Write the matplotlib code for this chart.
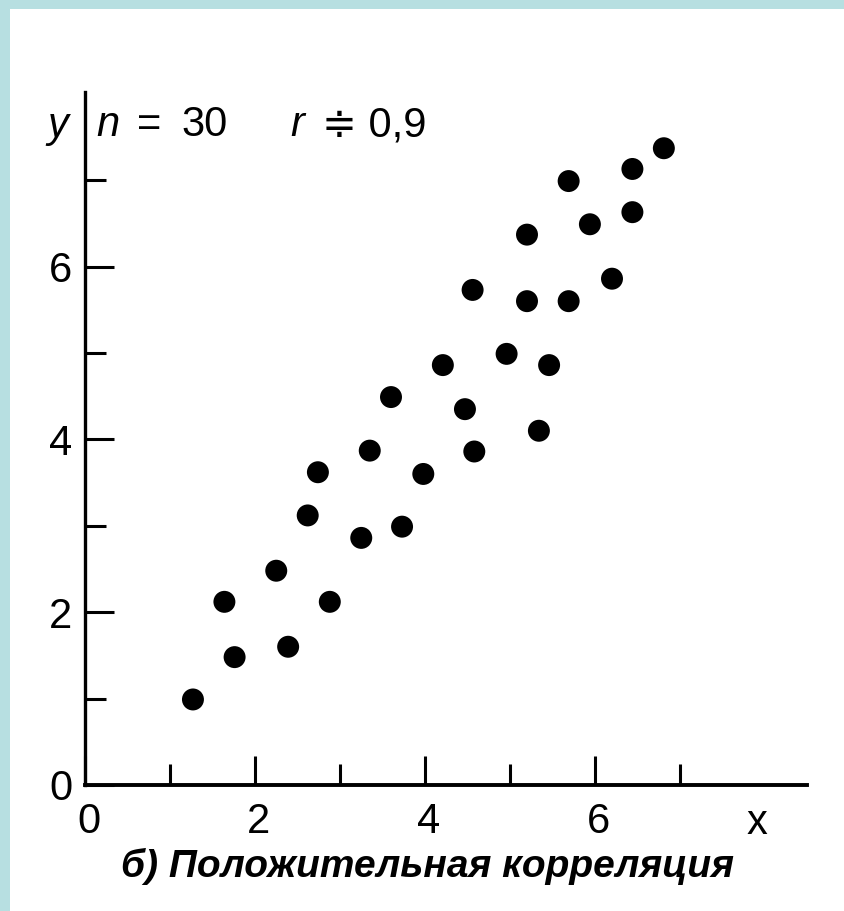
import matplotlib
matplotlib.use("Agg")
import matplotlib.pyplot as plt
from matplotlib.patches import Rectangle
from matplotlib.ticker import FixedLocator

# ---- data ----
x_vals = [1.27, 1.64, 1.76, 2.25, 2.39, 2.62, 2.74, 2.88, 3.25, 3.35,
          3.60, 3.73, 3.98, 4.21, 4.47, 4.56, 4.58, 4.96, 5.20, 5.20,
          5.34, 5.46, 5.69, 5.69, 5.94, 6.20, 6.44, 6.44, 6.81]
y_vals = [0.99, 2.12, 1.48, 2.48, 1.60, 3.12, 3.62, 2.12, 2.86, 3.87,
          4.49, 2.99, 3.60, 4.86, 4.35, 5.73, 3.86, 4.99, 6.37, 5.60,
          4.10, 4.86, 6.99, 5.60, 6.49, 5.86, 7.13, 6.63, 7.37]
x_ticks = [0, 2, 4, 6]
y_ticks = [0, 2, 4, 6]
minor_ticks = [1, 3, 5, 7]
caption = "б) Положительная корреляция"
n_text = "n"
n_eq = "="
n_value = "30"
r_text = "r"
r_value = "≑ 0,9"

W, H = 845, 911
FAM = ['Liberation Sans', 'DejaVu Sans']
plt.rcParams['font.family'] = FAM

fig = plt.figure(figsize=(W / 100, H / 100), dpi=100)
fig.patch.set_facecolor('white')

def fx(px):
    return px / W

def fy(py):
    return 1 - py / H

blue = '#b7dfe1'
fig.add_artist(Rectangle((0, fy(9)), 1, 9 / H, transform=fig.transFigure,
                         facecolor=blue, edgecolor='none'))
fig.add_artist(Rectangle((0, 0), 10 / W, 1, transform=fig.transFigure,
                         facecolor=blue, edgecolor='none'))

ax_left, ax_right, ax_bottom, ax_top = 85, 807, 785, 92
ax = fig.add_axes([fx(ax_left), fy(ax_bottom), (ax_right - ax_left) / W,
                   (ax_bottom - ax_top) / H])
ax.set_facecolor('none')
ax.set_xlim(0, (ax_right - ax_left) / 85.0)
ax.set_ylim(0, (ax_bottom - ax_top) / 86.4)

ax.scatter(x_vals, y_vals, s=250, color='black', edgecolors='none', zorder=3)

for s in ['top', 'right']:
    ax.spines[s].set_visible(False)
ax.spines['left'].set_linewidth(2.4)
ax.spines['bottom'].set_linewidth(2.8)

ax.set_xticks(x_ticks)
ax.set_yticks(y_ticks)
ax.xaxis.set_minor_locator(FixedLocator(minor_ticks))
ax.yaxis.set_minor_locator(FixedLocator(minor_ticks))
ax.tick_params(which='major', direction='in', length=21, width=2.2,
               labelsize=30, color='black')
ax.tick_params(which='minor', direction='in', length=15, width=2.2,
               color='black')
ax.tick_params(axis='x', which='major', pad=12)
ax.tick_params(axis='y', which='major', pad=9)
ax.set_xticklabels([str(t) for t in x_ticks])
ax.set_yticklabels([str(t) for t in y_ticks])
# the printed x labels sit a few pixels right of their ticks
import matplotlib.transforms as mtransforms
offset = mtransforms.ScaledTranslation(4 / 100, 0, fig.dpi_scale_trans)
for lbl in ax.get_xticklabels():
    lbl.set_transform(lbl.get_transform() + offset)

# axis letters
fig.text(fx(58), fy(126), "y", fontsize=30, style='italic', ha='center',
         va='center', family=FAM)
fig.text(fx(757), fy(823), "x", fontsize=30, ha='center', va='center',
         family=FAM)

# header annotations
fig.text(fx(96), fy(125), n_text, fontsize=30, style='italic', ha='left',
         va='center', family=FAM)
fig.text(fx(137), fy(125), n_eq, fontsize=30, ha='left', va='center',
         family=FAM)
fig.text(fx(181), fy(125), n_value, fontsize=30, ha='left', va='center',
         family=FAM)
fig.text(fx(290), fy(125), r_text, fontsize=30, style='italic', ha='left',
         va='center', family=FAM)
fig.text(fx(322), fy(125), r_value, fontsize=30, ha='left', va='center',
         family=FAM)

# caption
fig.text(fx(428), fy(866), caption, fontsize=28, style='italic',
         weight='bold', ha='center', va='center', family=FAM)

fig.savefig('out.png', dpi=100, facecolor='white')
